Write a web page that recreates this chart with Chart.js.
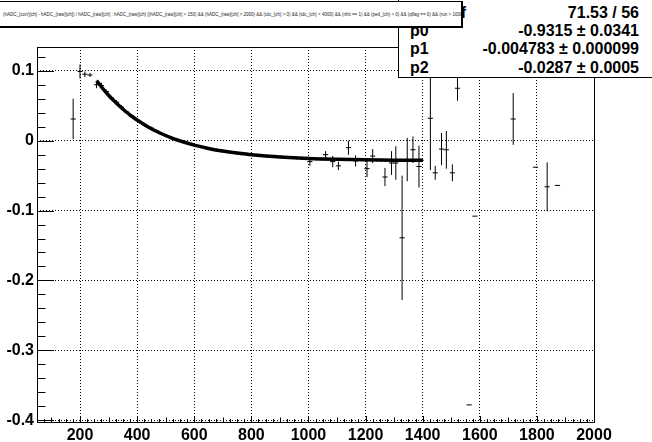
<!DOCTYPE html>
<html><head><meta charset="utf-8">
<script src="https://cdn.jsdelivr.net/npm/chart.js@4/dist/chart.umd.min.js"></script>
<style>
html,body{margin:0;padding:0;background:#fff;}
#wrap{position:relative;width:652px;height:442px;overflow:hidden;}
#c{position:absolute;left:0;top:0;}
#stats{position:absolute;left:398px;top:-1px;width:260px;height:79px;border:1px solid #000;background:#fff;box-sizing:border-box;font:bold 16px "Liberation Sans",Arial,sans-serif;color:#000;}
#stats .row{position:absolute;left:0;width:254px;height:18px;line-height:18px;}
#stats .lab{position:absolute;left:11px;}
#stats .lab.first{left:auto;right:187px;}
#stats .val{position:absolute;right:14px;}
#title{position:absolute;left:-1px;top:1px;width:464px;height:27px;border:1px solid #000;border-right-width:2px;border-bottom-width:2px;background:#fff;font:4.5px "Liberation Sans",Arial,sans-serif;color:#222;line-height:26px;white-space:nowrap;overflow:hidden;padding-left:3px;box-sizing:border-box;}
</style></head>
<body>
<div id="wrap">
<canvas id="c" width="652" height="442"></canvas>
<div id="stats"></div>
<div id="title"></div>
</div>
<script>
// ---- data ----
const xTickValues = [200, 400, 600, 800, 1000, 1200, 1400, 1600, 1800, 2000];
const yTickValues = [-0.4, -0.3, -0.2, -0.1, 0, 0.1];
const titleText = "(hADC_{corr}[ch] - hADC_{raw}[ch]) / hADC_{raw}[ch] : hADC_{raw}[ch] {(hADC_{raw}[ch] > 150) && (hADC_{raw}[ch] < 2000) && (tdc_{ch} > 0) && (tdc_{ch} < 4000) && (nhit == 1) && (ped_{ch} > 0) && (qflag == 0) && (run > 1000)} profile";
const statLabels = ["\u03c7\u00b2 / ndf", "p0", "p1", "p2"];
const statValues = ["71.53 / 56", "-0.9315 \u00b1 0.0341", "-0.004783 \u00b1 0.000099", "-0.0287 \u00b1 0.0005"];

// fit curve
const fitX = [258, 280, 300, 320, 340, 360, 380, 400, 440, 480, 520, 560, 600, 650, 700, 750, 800, 850, 900, 1000, 1100, 1200, 1300, 1400];
const fitY = [0.086, 0.0745, 0.065, 0.0566, 0.0488, 0.0417, 0.0353, 0.0295, 0.0193, 0.011, 0.0041, -0.0016, -0.0064, -0.0111, -0.0149, -0.0178, -0.0201, -0.0219, -0.0234, -0.0254, -0.0266, -0.0274, -0.0279, -0.0282];

// profile points (x, y, y-error)
const ptX = [176, 200, 217, 235,
  258, 275, 293, 310, 328, 345, 363, 380, 398, 415, 433, 450, 468, 485, 503, 520, 538, 555, 573, 590, 608, 625, 643, 660, 678, 695, 713, 730, 748, 765, 783, 800, 818, 835, 853, 870, 888, 905, 923, 940, 958, 975, 993,
  1010, 1028, 1045, 1063, 1080, 1098, 1115, 1133, 1150, 1168, 1185, 1203, 1220, 1238, 1255, 1273, 1290, 1308, 1325, 1343, 1360, 1378, 1395,
  1005, 1060, 1085, 1105, 1140, 1165, 1205, 1225, 1268, 1291, 1306, 1328, 1346, 1366, 1387, 1427, 1444, 1466, 1483, 1504, 1522, 1563, 1583, 1717, 1795, 1836, 1872];
const ptY = [0.031, 0.099, 0.095, 0.094,
  0.080, 0.079, 0.070, 0.061, 0.055, 0.048, 0.041, 0.035, 0.030, 0.026, 0.021, 0.018, 0.014, 0.010, 0.007, 0.004, 0.002, -0.001, -0.003, -0.005, -0.007, -0.009, -0.011, -0.012, -0.013, -0.015, -0.016, -0.017, -0.018, -0.019, -0.019, -0.020, -0.021, -0.021, -0.022, -0.023, -0.023, -0.023, -0.024, -0.024, -0.025, -0.025, -0.025,
  -0.026, -0.026, -0.026, -0.026, -0.027, -0.027, -0.027, -0.027, -0.027, -0.027, -0.027, -0.028, -0.028, -0.028, -0.028, -0.028, -0.028, -0.028, -0.028, -0.028, -0.028, -0.028, -0.028,
  -0.030, -0.020, -0.030, -0.036, -0.010, -0.029, -0.040, -0.022, -0.052, -0.032, -0.032, -0.139, -0.027, -0.013, -0.037, 0.032, -0.046, -0.012, -0.013, -0.046, 0.075, -0.378, -0.108, 0.031, -0.038, -0.066, -0.064];
const ptE = [0.029, 0.010, 0.004, 0.003,
  0.005, 0.004, 0.003, 0.003, 0.003, 0.003, 0.002, 0.002, 0.002, 0.002, 0.002, 0.002, 0.002, 0.002, 0.002, 0.002, 0.002, 0.002, 0.002, 0.002, 0.002, 0.002, 0.002, 0.002, 0.002, 0.002, 0.002, 0.002, 0.002, 0.002, 0.002, 0.002, 0.002, 0.002, 0.002, 0.002, 0.002, 0.002, 0.002, 0.002, 0.002, 0.002, 0.002,
  0.002, 0.002, 0.002, 0.002, 0.002, 0.002, 0.002, 0.002, 0.002, 0.002, 0.002, 0.002, 0.002, 0.002, 0.002, 0.002, 0.002, 0.002, 0.002, 0.002, 0.002, 0.002, 0.002,
  0.006, 0.005, 0.008, 0.006, 0.010, 0.008, 0.012, 0.010, 0.013, 0.017, 0.024, 0.089, 0.031, 0.019, 0.030, 0.074, 0.010, 0.023, 0.027, 0.012, 0.018, 0.0, 0.0, 0.037, 0.0, 0.035, 0.0];
const binHalfWidth = 9;

// ---- build library datasets ----
const errData = [];
for (let i = 0; i < ptX.length; i++) {
  errData.push({x: ptX[i] - binHalfWidth, y: ptY[i]}, {x: ptX[i] + binHalfWidth, y: ptY[i]}, {x: ptX[i], y: null});
  if (ptE[i] > 0) errData.push({x: ptX[i], y: ptY[i] - ptE[i]}, {x: ptX[i], y: ptY[i] + ptE[i]}, {x: ptX[i], y: null});
}
const fitData = fitX.map((x, i) => ({x, y: fitY[i]}));

document.getElementById('title').textContent = titleText;
const st = document.getElementById('stats');
statLabels.forEach((l, i) => {
  const r = document.createElement('div');
  r.className = 'row';
  r.style.top = (4 + i * 18.2) + 'px';
  r.innerHTML = '<span class="lab' + (i === 0 ? ' first' : '') + '"></span><span class="val"></span>';
  r.children[0].textContent = l;
  r.children[1].textContent = statValues[i];
  st.appendChild(r);
});

const FONT = {family: '"Liberation Sans", Arial, sans-serif', size: 16, weight: 'bold'};

const rootTicks = {
  id: 'rootTicks',
  afterDatasetsDraw(chart) {
    const {ctx, chartArea: a, scales: {x, y}} = chart;
    ctx.save();
    ctx.strokeStyle = '#000';
    ctx.lineWidth = 1;
    ctx.beginPath();
    for (let k = -20; k <= 6; k++) {
      const v = k * 0.02;
      const py = Math.round(y.getPixelForValue(v)) + 0.5;
      if (py < a.top || py > a.bottom) continue;
      const len = (k % 5 === 0) ? 17 : 8.5;
      ctx.moveTo(a.left, py); ctx.lineTo(a.left + len, py);
    }
    for (let v = 50; v <= 2000; v += 25) {
      const px = Math.round(x.getPixelForValue(v)) + 0.5;
      if (px < a.left || px > a.right) continue;
      const len = (v % 200 === 0) ? 6 : (v % 100 === 0 ? 4.5 : 3);
      ctx.moveTo(px, a.bottom); ctx.lineTo(px, a.bottom - len);
    }
    ctx.stroke();
    ctx.strokeRect(Math.round(a.left) + 0.5, Math.round(a.top) + 0.5, Math.round(a.right - a.left), Math.round(a.bottom - a.top));
    ctx.restore();
  }
};

new Chart(document.getElementById('c'), {
  type: 'scatter',
  data: {
    datasets: [
      {data: errData, showLine: true, spanGaps: false, borderColor: '#000', borderWidth: 1, pointRadius: 0, order: 2},
      {data: fitData, showLine: true, borderColor: '#000', borderWidth: 3.5, pointRadius: 0, cubicInterpolationMode: 'monotone', order: 1}
    ]
  },
  options: {
    responsive: false, animation: false, devicePixelRatio: 1,
    layout: {padding: {left: 0, top: 47, right: 58, bottom: 0}},
    plugins: {legend: {display: false}, tooltip: {enabled: false}},
    scales: {
      x: {
        type: 'linear', min: 49.4, max: 2000,
        afterBuildTicks: s => { s.ticks = xTickValues.map(v => ({value: v})); },
        afterFit: s => { s.height = 20; },
        grid: {color: '#000', lineWidth: 1, drawTicks: false},
        border: {display: false, dash: [1, 2]},
        ticks: {color: '#000', font: FONT, padding: 4, maxRotation: 0, autoSkip: false, callback: v => String(v)}
      },
      y: {
        type: 'linear', min: -0.4025, max: 0.134,
        afterBuildTicks: s => { s.ticks = yTickValues.map(v => ({value: v})); },
        afterFit: s => { s.width = 37; },
        grid: {color: '#000', lineWidth: 1, drawTicks: false},
        border: {display: false, dash: [1, 2]},
        ticks: {color: '#000', font: FONT, padding: 3, autoSkip: false, callback: v => (Math.abs(v) < 1e-9 ? '0' : String(Math.round(v * 10) / 10))}
      }
    }
  },
  plugins: [rootTicks]
});
</script>
</body></html>
